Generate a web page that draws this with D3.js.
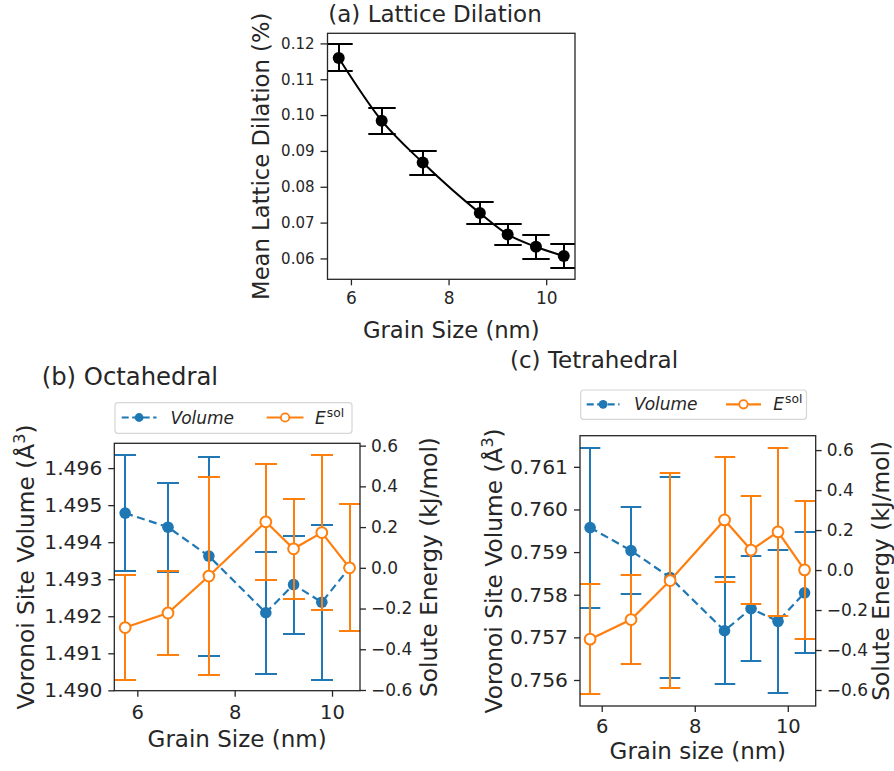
<!DOCTYPE html>
<html>
<head>
<meta charset="utf-8">
<script src="https://cdn.jsdelivr.net/npm/d3@7"></script>
<style>
body { margin: 0; background: #fff; }
svg { display: block; font-family: "DejaVu Sans", sans-serif; }
</style>
</head>
<body>
<script>
// grain sizes (nm), same for every panel
var grainSize = [5.75, 6.63, 7.47, 8.64, 9.21, 9.79, 10.36];

// (a) mean lattice dilation (%)
var dilation = [0.11595, 0.09845, 0.08675, 0.07265, 0.0667, 0.06325, 0.06065];
var dilationErr = [0.00375, 0.00365, 0.00335, 0.00305, 0.0030, 0.00335, 0.00335];

// (b) octahedral sites
var octVolume = [1.494785, 1.494405, 1.493625, 1.492095, 1.492855, 1.49238, 1.49331];
var octVolumeErr = [0.001575, 0.0012, 0.002685, 0.001645, 0.001325, 0.00209, 0.00171];
var octEnergy = [-0.2935, -0.222, -0.0405, 0.226, 0.0935, 0.173, 0.0];
var octEnergyErr = [0.2595, 0.205, 0.4855, 0.285, 0.2455, 0.379, 0.311];

// (c) tetrahedral sites
var tetVolume = [0.759575, 0.759035, 0.758405, 0.757155, 0.757675, 0.757375, 0.758045];
var tetVolumeErr = [0.001875, 0.001025, 0.002365, 0.001255, 0.001225, 0.001685, 0.001415];
var tetEnergy = [-0.346, -0.2475, -0.0525, 0.2505, 0.1, 0.191, 0.001];
var tetEnergyErr = [0.274, 0.2225, 0.5395, 0.3125, 0.272, 0.421, 0.346];

// tick values
var xTicks = [6, 8, 10];
var dilationTicks = [0.06, 0.07, 0.08, 0.09, 0.10, 0.11, 0.12];
var octVolumeTicks = [1.490, 1.491, 1.492, 1.493, 1.494, 1.495, 1.496];
var tetVolumeTicks = [0.756, 0.757, 0.758, 0.759, 0.760, 0.761];
var energyTicks = [-0.6, -0.4, -0.2, 0.0, 0.2, 0.4, 0.6];

var blue = '#1f77b4';
var orange = '#ff7f0e';
var ink = '#262626';

var svg = d3.select('body').append('svg')
	.attr('width', 894)
	.attr('height', 771);

var clipCount = 0;

// makes the axes box group with its own clip path
function makeAxes(box) {
	var id = 'clip' + (clipCount++);
	svg.append('clipPath').attr('id', id)
		.append('rect')
		.attr('x', box.left).attr('y', box.top)
		.attr('width', box.right - box.left)
		.attr('height', box.bottom - box.top);
	return svg.append('g').attr('clip-path', 'url(#' + id + ')');
}

function styleAxis(g, size) {
	g.select('.domain').remove();
	g.attr('font-family', null).attr('font-size', null);
	g.selectAll('.tick line').attr('stroke', ink).attr('stroke-width', 1.3);
	g.selectAll('.tick text').attr('fill', ink).style('font-size', size + 'px');
}

function drawFrame(box) {
	svg.append('rect')
		.attr('x', box.left).attr('y', box.top)
		.attr('width', box.right - box.left)
		.attr('height', box.bottom - box.top)
		.attr('fill', 'none')
		.attr('stroke', ink)
		.attr('stroke-width', 1.3);
}

// snapped to whole pixels so bars that lie on top of each other stay clean
function errorBars(g, x, y, ys, errs, color, cap) {
	grainSize.forEach(function(gs, i) {
		var px = Math.round(x(gs));
		var top = Math.round(y(ys[i] + errs[i]));
		var bot = Math.round(y(ys[i] - errs[i]));
		g.append('line')
			.attr('x1', px).attr('x2', px)
			.attr('y1', top).attr('y2', bot)
			.attr('stroke', color).attr('stroke-width', 2);
		[top, bot].forEach(function(py) {
			g.append('line')
				.attr('x1', px - cap).attr('x2', px + cap)
				.attr('y1', py).attr('y2', py)
				.attr('stroke', color).attr('stroke-width', 2);
		});
	});
}

function vLabel(x, y, size, text) {
	return svg.append('text')
		.attr('transform', 'translate(' + x + ',' + y + ') rotate(-90)')
		.attr('text-anchor', 'middle')
		.attr('fill', ink)
		.style('font-size', size + 'px')
		.text(text);
}

function hText(x, y, size, text, anchor) {
	return svg.append('text')
		.attr('x', x).attr('y', y)
		.attr('text-anchor', anchor)
		.attr('fill', ink)
		.style('font-size', size + 'px')
		.text(text);
}

// ---------- panel (a) ----------
function drawDilation() {
	var box = {left: 327.5, right: 575, top: 33.3, bottom: 279.3};
	var x = d3.scaleLinear().domain([5.52, 10.59]).range([box.left, box.right]);
	var y = d3.scaleLinear().domain([0.05418, 0.12282]).range([box.bottom, box.top]);

	var g = makeAxes(box);
	errorBars(g, x, y, dilation, dilationErr, '#000', 13.7);

	var line = d3.line()
		.x(function(d, i) { return x(grainSize[i]); })
		.y(function(d) { return y(d); })
		.curve(d3.curveMonotoneX);
	g.append('path').datum(dilation)
		.attr('d', line)
		.attr('fill', 'none')
		.attr('stroke', '#000')
		.attr('stroke-width', 2);
	g.selectAll('.dot').data(dilation).enter().append('circle')
		.attr('cx', function(d, i) { return x(grainSize[i]); })
		.attr('cy', function(d) { return y(d); })
		.attr('r', 6)
		.attr('fill', '#000');

	drawFrame(box);

	var ax = svg.append('g').attr('transform', 'translate(0,' + box.bottom + ')')
		.call(d3.axisBottom(x).tickValues(xTicks).tickFormat(d3.format('d')).tickSize(6).tickPadding(7));
	styleAxis(ax, 17);
	var ay = svg.append('g').attr('transform', 'translate(' + box.left + ',0)')
		.call(d3.axisLeft(y).tickValues(dilationTicks).tickFormat(d3.format('.2f')).tickSize(7).tickPadding(6));
	styleAxis(ay, 15);

	hText(328.3, 22.3, 23, '(a) Lattice Dilation', 'start');
	hText((box.left + box.right) / 2, 338, 22.7, 'Grain Size (nm)', 'middle');
	vLabel(269, (box.top + box.bottom) / 2, 22.7, 'Mean Lattice Dilation (%)');
}

// ---------- panels (b) and (c) ----------
function drawSites(p) {
	var box = p.box;
	var x = d3.scaleLinear().domain(p.xDomain).range([box.left, box.right]);
	var yL = d3.scaleLinear().domain(p.volDomain).range([box.bottom, box.top]);
	var yR = d3.scaleLinear().domain(p.enDomain).range([box.bottom, box.top]);

	var g = makeAxes(box);

	// volume, blue dashed
	errorBars(g, x, yL, p.vol, p.volErr, blue, p.cap);
	var lineL = d3.line()
		.x(function(d, i) { return x(grainSize[i]); })
		.y(function(d) { return yL(d); });
	g.append('path').datum(p.vol)
		.attr('d', lineL)
		.attr('fill', 'none')
		.attr('stroke', blue)
		.attr('stroke-width', 2.2)
		.attr('stroke-dasharray', '8,4.5');
	g.selectAll('.vdot').data(p.vol).enter().append('circle')
		.attr('cx', function(d, i) { return x(grainSize[i]); })
		.attr('cy', function(d) { return yL(d); })
		.attr('r', 5.8)
		.attr('fill', blue);

	// solute energy, orange open markers
	errorBars(g, x, yR, p.en, p.enErr, orange, p.cap);
	var lineR = d3.line()
		.x(function(d, i) { return x(grainSize[i]); })
		.y(function(d) { return yR(d); });
	g.append('path').datum(p.en)
		.attr('d', lineR)
		.attr('fill', 'none')
		.attr('stroke', orange)
		.attr('stroke-width', 2.2);
	g.selectAll('.edot').data(p.en).enter().append('circle')
		.attr('cx', function(d, i) { return x(grainSize[i]); })
		.attr('cy', function(d) { return yR(d); })
		.attr('r', 5.4)
		.attr('fill', '#fff')
		.attr('stroke', orange)
		.attr('stroke-width', 2);

	drawFrame(box);

	var ax = svg.append('g').attr('transform', 'translate(0,' + box.bottom + ')')
		.call(d3.axisBottom(x).tickValues(xTicks).tickFormat(d3.format('d')).tickSize(6).tickPadding(p.xPad));
	styleAxis(ax, 19.5);
	var ayL = svg.append('g').attr('transform', 'translate(' + box.left + ',0)')
		.call(d3.axisLeft(yL).tickValues(p.volTicks).tickFormat(d3.format('.3f')).tickSize(6).tickPadding(6));
	styleAxis(ayL, 20.3);
	var ayR = svg.append('g').attr('transform', 'translate(' + box.right + ',0)')
		.call(d3.axisRight(yR).tickValues(energyTicks).tickFormat(d3.format('.1f')).tickSize(6).tickPadding(5));
	styleAxis(ayR, 17);

	hText(p.titleX, p.titleY, p.titleSize, p.title, 'start');
	hText((box.left + box.right) / 2, p.xLabelY, 23, p.xLabel, 'middle');

	var cy = (box.top + box.bottom) / 2;
	var vl = vLabel(p.leftLabelX, cy, 23.3, 'Voronoi Site Volume (Å');
	vl.append('tspan').attr('dy', -9).style('font-size', '16px').text('3');
	vl.append('tspan').attr('dy', 9).text(')');
	vLabel(p.rightLabelX, cy, 23.3, 'Solute Energy (kJ/mol)');

	drawLegend(p.legend);
}

function drawLegend(L) {
	svg.append('rect')
		.attr('x', L.left).attr('y', L.top)
		.attr('width', L.right - L.left)
		.attr('height', L.bottom - L.top)
		.attr('rx', 3)
		.attr('fill', '#fff')
		.attr('stroke', '#d6d6d6')
		.attr('stroke-width', 1.2);

	// volume entry
	svg.append('line')
		.attr('x1', L.blueX[0]).attr('x2', L.blueX[1])
		.attr('y1', L.lineY).attr('y2', L.lineY)
		.attr('stroke', blue).attr('stroke-width', 2.2)
		.attr('stroke-dasharray', '7,3.5');
	svg.append('circle')
		.attr('cx', (L.blueX[0] + L.blueX[1]) / 2).attr('cy', L.lineY)
		.attr('r', 4.4).attr('fill', blue);
	svg.append('text')
		.attr('x', L.volX).attr('y', L.textY)
		.attr('fill', ink)
		.style('font-size', '17px')
		.style('font-style', 'italic')
		.text('Volume');

	// energy entry
	svg.append('line')
		.attr('x1', L.orangeX[0]).attr('x2', L.orangeX[1])
		.attr('y1', L.lineY).attr('y2', L.lineY)
		.attr('stroke', orange).attr('stroke-width', 2.2);
	svg.append('circle')
		.attr('cx', (L.orangeX[0] + L.orangeX[1]) / 2).attr('cy', L.lineY)
		.attr('r', 4.2).attr('fill', '#fff')
		.attr('stroke', orange).attr('stroke-width', 1.8);
	var t = svg.append('text')
		.attr('x', L.eX).attr('y', L.textY)
		.attr('fill', ink)
		.style('font-size', '17px');
	t.append('tspan').style('font-style', 'italic').text('E');
	t.append('tspan').attr('dx', 1).attr('dy', -7.3).style('font-size', '12.3px').text('sol');
}

drawDilation();

drawSites({
	box: {left: 114.3, right: 360, top: 443.3, bottom: 690.7},
	xDomain: [5.527, 10.575],
	volDomain: [1.48999, 1.49667],
	enDomain: [-0.6035, 0.6115],
	vol: octVolume, volErr: octVolumeErr,
	en: octEnergy, enErr: octEnergyErr,
	volTicks: octVolumeTicks,
	cap: 11,
	xPad: 8,
	title: '(b) Octahedral', titleX: 41.7, titleY: 385, titleSize: 24.3,
	xLabel: 'Grain Size (nm)', xLabelY: 747,
	leftLabelX: 33.5, rightLabelX: 436.5,
	legend: {left: 115, right: 352, top: 402.7, bottom: 433.3,
		lineY: 417.5, textY: 424,
		blueX: [121.7, 156.5], volX: 170.5,
		orangeX: [266.7, 303.5], eX: 315}
});

drawSites({
	box: {left: 580, right: 815.7, top: 435.7, bottom: 706},
	xDomain: [5.533, 10.6],
	volDomain: [0.75539, 0.76173],
	enDomain: [-0.68, 0.672],
	vol: tetVolume, volErr: tetVolumeErr,
	en: tetEnergy, enErr: tetEnergyErr,
	volTicks: tetVolumeTicks,
	cap: 10.3,
	xPad: 7.5,
	title: '(c) Tetrahedral', titleX: 510, titleY: 368.3, titleSize: 23,
	xLabel: 'Grain size (nm)', xLabelY: 758.5,
	leftLabelX: 502, rightLabelX: 888.5,
	legend: {left: 580.7, right: 806.5, top: 390, bottom: 419.3,
		lineY: 404.3, textY: 409.8,
		blueX: [586.7, 619.5], volX: 634,
		orangeX: [726, 761], eX: 773.3}
});
</script>
</body>
</html>
